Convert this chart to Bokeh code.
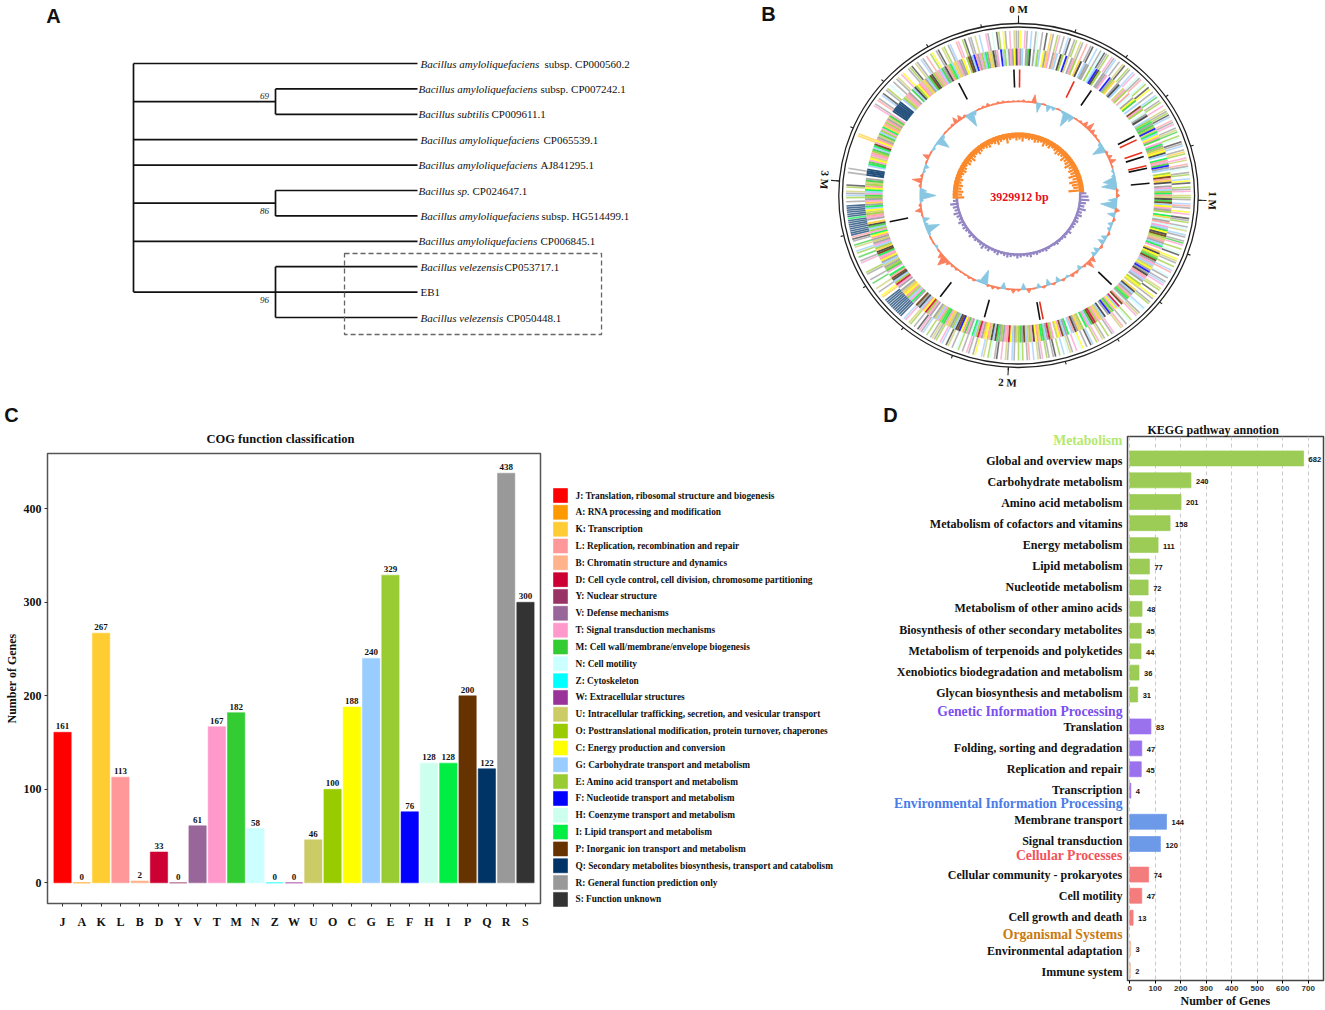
import numpy as np
from bokeh.plotting import figure
from bokeh.layouts import column, row
from bokeh.models import (ColumnDataSource, Range1d, FactorRange, FixedTicker, Label)
from bokeh.core.properties import value
from bokeh.embed import file_html
from bokeh.resources import INLINE

# ---------- Panel A data ----------
tip_italic = ["Bacillus amyloliquefaciens", "Bacillus amyloliquefaciens", "Bacillus subtilis",
              "Bacillus amyloliquefaciens", "Bacillus amyloliquefaciens", "Bacillus sp.",
              "Bacillus amyloliquefaciens", "Bacillus amyloliquefaciens", "Bacillus velezensis",
              "", "Bacillus velezensis"]
tip_roman = ["subsp. CP000560.2", "subsp. CP007242.1", "CP009611.1", "CP065539.1", "AJ841295.1",
             "CP024647.1", "subsp. HG514499.1", "CP006845.1", "CP053717.1", "EB1", "CP050448.1"]
clades = [[1, 2], [5, 6], [8, 9, 10]]
singles = [0, 3, 4, 7]
support = ["69", "86", "96"]

# ---------- Panel B data ----------
genome_bp = "3929912 bp"
major_ticks = ["0 M", "1 M", "2 M", "3 M"]
gene_outer = [
    "RC.TR.G.RH.R.S.KR.ET.R.GS.RE.UR.L.RS.G.RN",
    "SRE.TRG.R.US.ER.GT.HRL.NE.SC.R.GM.RE.T.UR",
    "ESG.LRT.RUM.EH.SRG.RKE.TU.LRN.RE.GCS.ERT.",
    "UER.GLR.CT.SRE.RNU.GR.RMT.E.HS.CUR.E.GL.N",
    "R.RGT.UE.S.CR.RE..GN.RUT..EH.R.LU...TR.E.",
    "RU.TE.GS.R.CN.T.RUH.G.E.SR.RE.TRU.G.LR.EH",
    "E.RG.RU.T.SR.HE.UG..CR.RT.R.EN.R.US.GT.ER",
    "UR.E.GRTS.R.EU.TG.QQQQQQQQQQQ.KC.R.U..M.R",
    "..RE....TR.M.EG.UM.RSLQQQQQQQQIQQQQQQ.R.E",
    "GRU.ES.....R.R...............KK..........",
    "....TR.LR.GS.RE.N.R.RU.TC..RES.UR.GR.L.E",
    "C.RS.UE.RG..LT.ES.RR.U.G..TR.H.SE.CR.T.UR",
]
gene_inner = [
    "TRG.RMS.RHEG.CRKT.RBG.SE.FU.RTE.KS.GRR.EH",
    "GFSE.RRT.FREK.RSG.UTE.LN.RCM.G.PTE.HRS.GE",
    "IRMEFUIGCLM.TIREKCSG.ILTMFRG.ECPLKS.RTGEI",
    "LUSMPGCTRE.IKHRLNTGMCSPEULRGIT.KSCEMPRTGU",
    "CRFRSLTGR.ECU.KSGRTEIRHLP.DGCTMEFR.SGUKTE",
    "DPMGTI.EUKRSLG.IRGPTCU.TEDRGMIKLCSTEUGPRM",
    "EURGCDLTRERIPGSULCKRTDEGIHRTMLCFPSGERUKTM",
    "IETGUR.RTEDCLGSRP.RITGELCKUR.RTDEGSPLI.TM",
    "ERUGRCLTIPSKEGTRURLCITEGMSK.RTLEUCGIRKTRE",
    "MTGICLEUMR.QQQQ.GIMTCUTLEMGIPTCLRUMGETIKL",
    "ELRUMT.QQQQQQQ.GEUTLR.MGSECLTUKRGMPSELUTG",
    "MRSLEIGKUTRRC.EPSGFLRTEGIRKUSRT.FGEHRTRCS",
]
rna_deg = [358, 0.5, 25, 33.6, 61.8, 63.8, 70, 72, 76.3, 77.5, 84.4, 135, 169.2, 170.6, 195, 216.5, 258, 333]
rna_kind = ["k", "r", "r", "k", "k", "r", "r", "k", "r", "k", "k", "k", "r", "k", "k", "k", "k", "k"]
gc_dev = [1, 2, 1, 8, -9, 1, -6, -3, 1, -2, -14, -6, 1, 2, 5, 8, 4, 2, 1, -3,
          -12, 2, 4, 6, 1, -2, -3, -12, -14, 2, 3, -8, -15, 4, -7, 2, -4, -3, 2, -5,
          -6, 2, -5, -4, 5, 8, 2, -4, 2, 3, -2, 2, -5, 2, -6, 2, -4, 1, 4, -6,
          2, 4, 1, -6, 2, 3, 2, -14, -2, 2, 2, 1, 1, 2, 2, 4, 10, 5, 1, -2,
          1, 1, -2, -13, -3, -6, 1, 6, 2, -3, -15, -6, 2, 9, 2, -2, -4, 1, 6, 1,
          -2, -1, -12, -3, 1, 1, 2, 6, 5, 2, -14, -4, 1, 2, 3, 1, 2, 2, 1, 1]
skew_orange = [11, 9, 10, 8, 9, 7, 8, 6, 7, 8, 7, 6, 8, 7, 9, 7, 6, 8, 7, 6, 7, 8, 6, 7, 9, 7, 6, 10, 7, 6,
               8, 7, 9, 6, 7, 6, 8, 7, 6, 9, 7, 8, 6, 7, 9, 8, 7, 10, 8, 9, 11, 8, 10, 9, 12, 9, 13, 11, 10, 15]
skew_purple = [7, 9, 10, 7, 6, 8, 5, 6, 4, 5, 4, 4, 3, 5, 3, 4, 3, 3, 4, 3, 2, 3, 4, 3, 3, 4, 3, 5, 4, 3,
               4, 5, 3, 4, 5, 4, 3, 5, 4, 3, 5, 4, 6, 4, 3, 4, 3, 5, 3, 4, 5, 4, 6, 4, 5, 7, 5, 6, 8, 5]

# ---------- Panel C data ----------
cog_letters = list("JAKLBDYVTMNZWUOCGEFHIPQRS")
cog_counts = [161, 0, 267, 113, 2, 33, 0, 61, 167, 182, 58, 0, 0, 46, 100, 188, 240, 329, 76, 128, 128, 200, 122, 438, 300]
cog_colors = ["#ff0000", "#ff9900", "#ffcc33", "#ff9999", "#ffb38a", "#cc0033", "#993366", "#996699", "#ff99cc",
              "#33cc33", "#ccffff", "#00ffff", "#993399", "#cccc66", "#99cc00", "#ffff00", "#99ccff", "#99cc33",
              "#0000ff", "#ccffee", "#00ee44", "#663300", "#003366", "#999999", "#333333"]
cog_names = ["Translation, ribosomal structure and biogenesis", "RNA processing and modification", "Transcription",
             "Replication, recombination and repair", "Chromatin structure and dynamics",
             "Cell cycle control, cell division, chromosome partitioning", "Nuclear structure", "Defense mechanisms",
             "Signal transduction mechanisms", "Cell wall/membrane/envelope biogenesis", "Cell motility", "Cytoskeleton",
             "Extracellular structures", "Intracellular trafficking, secretion, and vesicular transport",
             "Posttranslational modification, protein turnover, chaperones", "Energy production and conversion",
             "Carbohydrate transport and metabolism", "Amino acid transport and metabolism",
             "Nucleotide transport and metabolism", "Coenzyme transport and metabolism", "Lipid transport and metabolism",
             "Inorganic ion transport and metabolism", "Secondary metabolites biosynthesis, transport and catabolism",
             "General function prediction only", "Function unknown"]

# ---------- Panel D data ----------
kegg_names = ["Global and overview maps", "Carbohydrate metabolism", "Amino acid metabolism",
              "Metabolism of cofactors and vitamins", "Energy metabolism", "Lipid metabolism", "Nucleotide metabolism",
              "Metabolism of other amino acids", "Biosynthesis of other secondary metabolites",
              "Metabolism of terpenoids and polyketides", "Xenobiotics biodegradation and metabolism",
              "Glycan biosynthesis and metabolism", "Translation", "Folding, sorting and degradation",
              "Replication and repair", "Transcription", "Membrane transport", "Signal transduction",
              "Cellular community - prokaryotes", "Cell motility", "Cell growth and death",
              "Environmental adaptation", "Immune system"]
kegg_counts = [682, 240, 201, 158, 111, 77, 72, 48, 45, 44, 36, 31, 83, 47, 45, 4, 144, 120, 74, 47, 13, 3, 2]
kegg_group = [0] * 12 + [1] * 4 + [2] * 2 + [3] * 3 + [4] * 2
group_names = ["Metabolism", "Genetic Information Processing", "Environmental Information Processing",
               "Cellular Processes", "Organismal Systems"]
group_bar = ["#9ccc56", "#9b72ee", "#6d9ae8", "#f47c7c", "#f2bfa0"]
group_text = ["#b5e86e", "#7b4ff0", "#4a7de8", "#f2535b", "#c87a10"]

SERIF = "Liberation Serif"
SANS = "Liberation Sans"
TOP_H, BOT_H = 424, 586


def letter(p, txt, x, y_top):
    p.add_layout(Label(x=x, y=TOP_H - y_top, x_units="screen", y_units="screen", text=txt, text_font=SANS,
                       text_font_style="bold", text_font_size="20px", text_color="#111",
                       text_baseline="middle", text_align="center"))


# ---------- Panel A ----------
W_A = 745
step_y, depth_px, root_px, tip0_px = 25.4, 142.0, 133.0, 63.0
a = figure(width=W_A, height=TOP_H, x_axis_type=None, y_axis_type=None, output_backend="svg", toolbar_location=None,
           x_range=Range1d(-root_px / depth_px, (W_A - root_px) / depth_px),
           y_range=Range1d((TOP_H - tip0_px) / step_y, -tip0_px / step_y),
           min_border=0, outline_line_color=None, frame_align=False)
a.grid.visible = False
xs, ys = [[0, 0]], [[0, 9]]
for t in singles:
    xs.append([0, 2]); ys.append([t, t])
for c_ in clades:
    mid = (c_[0] + c_[-1]) / 2
    xs.append([0, 1]); ys.append([mid, mid])
    xs.append([1, 1]); ys.append([c_[0], c_[-1]])
    for t in c_:
        xs.append([1, 2]); ys.append([t, t])
a.multi_line(xs, ys, line_color="#111", line_width=1.7)
a.quad(left=[1.486], right=[3.296], top=[7.48], bottom=[10.67], fill_color=None, line_color="#666",
       line_dash="5 3", line_width=1.3)
n = len(tip_roman)
it_off = [3, 1, 1, 3, 1, 1, 3, 1, 3, 0, 3]
ro_off = [127, 123, 74, 126, 123, 55, 124, 123, 87, 3, 89]
src = ColumnDataSource(dict(x=[2] * n, y=list(range(n)), it=tip_italic, ro=tip_roman, io=it_off, oo=ro_off))
a.text("x", "y", text="it", x_offset="io", source=src, text_font=value(SERIF), text_font_style="italic",
       text_font_size="11px", text_baseline="middle", text_color="#111")
a.text("x", "y", text="ro", x_offset="oo", source=src, text_font=value(SERIF),
       text_font_size="11px", text_baseline="middle", text_color="#111")
a.text([1, 1, 1], [1.5, 5.5, 9], text=support, x_offset=[-11] * 3, y_offset=[-6, 8, 8], text_align="center",
       text_font=value(SERIF), text_font_style="italic", text_font_size="9px", text_baseline="middle", text_color="#222")
letter(a, "A", 53, 15)
letter(a, "C", 11, 414)

# ---------- Panel B ----------
W_B = 580
stretch = 1.045
cx, cy = 273.0, 195.0
b = figure(width=W_B, height=TOP_H, x_axis_type=None, y_axis_type=None, output_backend="svg", toolbar_location=None,
           x_range=Range1d(-cx / stretch, (W_B - cx) / stretch), y_range=Range1d(-(TOP_H - cy), cy),
           min_border=0, outline_line_color=None, frame_align=False)
b.grid.visible = False
color_of = dict(zip(cog_letters, cog_colors))


def radial(deg, r0, r1):
    t = np.radians(deg)
    return [r0 * np.sin(t), r1 * np.sin(t)], [r0 * np.cos(t), r1 * np.cos(t)]


def arc(d0, d1, r):
    t = np.radians(np.arange(d0, d1 + 1, 1.0))
    return r * np.sin(t), r * np.cos(t)


def draw_track(chunks, r0, r1, width, alpha):
    mx, my, col = [], [], []
    for i, chunk in enumerate(chunks):
        for j, ch in enumerate(chunk):
            if ch == ".":
                continue
            x, y = radial(30 * (i + j / len(chunk)), r0, r1)
            mx.append(x); my.append(y); col.append(color_of[ch])
    b.multi_line(mx, my, line_color=col, line_width=width, line_alpha=alpha)


draw_track(gene_outer, 147, 165, 1.6, 0.7)
draw_track(gene_inner, 130, 147, 1.9, 0.85)

for rr in (172, 168.5):
    b.ellipse([0], [0], width=2 * rr, height=2 * rr, fill_color=None, line_color="#222", line_width=1.3)
tx, ty = [], []
for k in range(20):
    x, y = radial(k * 0.2e6 / 3929912 * 360, 172, 175)
    tx.append(x); ty.append(y)
for k in range(4):
    x, y = radial(k * 1e6 / 3929912 * 360, 172, 180)
    tx.append(x); ty.append(y)
b.multi_line(tx, ty, line_color="#222", line_width=1.1)
lab_deg = [k * 1e6 / 3929912 * 360 for k in range(4)]
lab_rot = [0, -91.6, -3.2, -94.8]
b.text([186 * np.sin(np.radians(d)) for d in lab_deg], [187 * np.cos(np.radians(d)) for d in lab_deg],
       text=major_ticks, angle=lab_rot, angle_units="deg", text_align="center", text_baseline="middle",
       text_font=value(SERIF), text_font_style="bold", text_font_size="11px", text_color="#111")

mx, my, col = [], [], []
for d_, kk in zip(rna_deg, rna_kind):
    x, y = radial(d_, 108, 126)
    mx.append(x); my.append(y); col.append("#e8301c" if kk == "r" else "#111")
b.multi_line(mx, my, line_color=col, line_width=1.6)

# GC content ring: one spike per reading, on a thin base line of the same colour
gc_base = 94
tri_x, tri_y, tri_c, seg_x, seg_y = [], [], [], [], []
for i, v in enumerate(gc_dev):
    th = i * 3.0
    hw = 2.6 if abs(v) >= 10 else 1.5
    pts = [(th - hw, gc_base), (th, gc_base + v), (th + hw, gc_base)]
    tri_x.append([r * np.sin(np.radians(t)) for t, r in pts])
    tri_y.append([r * np.cos(np.radians(t)) for t, r in pts])
    tri_c.append("#fb7f5c" if v > 0 else "#88c6e2")
    seg_x.append([gc_base * np.sin(np.radians(th - 1.5)), gc_base * np.sin(np.radians(th + 1.5))])
    seg_y.append([gc_base * np.cos(np.radians(th - 1.5)), gc_base * np.cos(np.radians(th + 1.5))])
b.multi_line(seg_x, seg_y, line_color=tri_c, line_width=1.5)
b.patches(tri_x, tri_y, fill_color=tri_c, line_color=tri_c, line_width=0.8)

# GC skew ring
ax_, ay_ = arc(268, 448, 60.5)
b.line(ax_, ay_, line_color="#fb8a2c", line_width=5)
ax_, ay_ = arc(88, 268, 59)
b.line(ax_, ay_, line_color="#9486c4", line_width=2.5)
mx, my = [], []
for i, d_ in enumerate(skew_orange):
    x, y = radial(268 + 3 * i, 63 - d_, 63)
    mx.append(x); my.append(y)
b.multi_line(mx, my, line_color="#fb8a2c", line_width=2.2)
mx, my = [], []
for i, h in enumerate(skew_purple):
    x, y = radial(88 + 3 * i, 58, 58 + h)
    mx.append(x); my.append(y)
b.multi_line(mx, my, line_color="#9486c4", line_width=2.2)
b.text([1], [-1], text=[genome_bp], text_align="center", text_baseline="middle", text_font=value(SERIF),
       text_font_style="bold", text_font_size="12px", text_color="#e8101c")
letter(b, "B", 23, 13)
letter(b, "D", 145, 414)

# ---------- Panel C ----------
W_C = 547
c = figure(width=W_C, height=BOT_H + 2, output_backend="svg", toolbar_location=None,
           x_range=FactorRange(factors=cog_letters, factor_padding=0, range_padding=0.28, range_padding_units="absolute"),
           y_range=Range1d(-22.1, 459.1), frame_align=False, margin=(-2, 0, 0, 0),
           min_border_left=47, min_border_right=7, min_border_top=31, min_border_bottom=107,
           outline_line_color="#555", outline_line_width=1.5, title="COG function classification",
           y_axis_label="Number of Genes")
c.title.align = "left"
c.title.offset = 159
c.title.text_font = SERIF
c.title.text_font_style = "bold"
c.title.text_font_size = "12.5px"
c.title.text_color = "#111"
c.title.standoff = 15
c.grid.visible = False
src_c = ColumnDataSource(dict(x=cog_letters, top=cog_counts, color=cog_colors, lab=[str(v) for v in cog_counts]))
c.vbar(x="x", top="top", bottom=0, width=0.9, source=src_c, fill_color="color", line_color="color", line_width=1, line_alpha=0.5)
c.text(x="x", y="top", text="lab", source=src_c, y_offset=-3, text_align="center", text_baseline="bottom",
       text_font=value(SERIF), text_font_style="bold", text_font_size="9px", text_color="#111")
c.yaxis.ticker = FixedTicker(ticks=[0, 100, 200, 300, 400])
for ax in (c.xaxis[0], c.yaxis[0]):
    ax.axis_line_color = None
    ax.major_tick_out = 3
    ax.major_tick_in = 0
    ax.minor_tick_line_color = None
    ax.major_label_text_font = SERIF
    ax.major_label_text_font_style = "bold"
    ax.major_label_text_font_size = "12px"
    ax.major_label_text_color = "#111"
    ax.major_tick_line_color = "#333"
c.xaxis.major_label_standoff = 8
c.yaxis.major_label_standoff = 3
c.yaxis.axis_label_text_font = SERIF
c.yaxis.axis_label_text_font_style = "bold"
c.yaxis.axis_label_text_font_size = "12px"
c.yaxis.axis_label_text_color = "#111"
c.yaxis.axis_label_standoff = 2

# ---------- COG legend and the row names of panel D share one text canvas ----------
W_L = 578
PAGE_TOP, PAGE_BOTTOM = TOP_H, TOP_H + BOT_H
row0, row_h = 495.0, 16.83
leg = figure(width=W_L, height=BOT_H, x_axis_type=None, y_axis_type=None, output_backend="svg", toolbar_location=None,
             x_range=Range1d(0, W_L), y_range=Range1d(PAGE_BOTTOM, PAGE_TOP),
             min_border=0, outline_line_color=None, frame_align=False)
leg.grid.visible = False
rows_l = [row0 + row_h * i for i in range(len(cog_letters))]
leg.rect([13] * len(rows_l), rows_l, width=14, height=14, width_units="screen", height_units="screen",
         fill_color=cog_colors, line_color=cog_colors, line_alpha=0.6)
leg.text([28] * len(rows_l), rows_l, text=[f"{a_}: {b_}" for a_, b_ in zip(cog_letters, cog_names)],
         text_baseline="middle", text_font=value(SERIF), text_font_style="bold", text_font_size="9.3px", text_color="#111")

bar_y = [458, 480, 501.7, 523, 545, 566.5, 587.5, 609, 631, 651.5, 673, 695, 727, 749, 770, 791.5, 822.7, 845,
         875.7, 897, 919, 950, 972]
name_y = [461, 482, 503, 524, 545, 566, 587, 608, 630, 651, 672, 693, 727, 748, 769, 790, 820, 841, 875, 896, 917, 951, 972]
head_y = [441, 712, 804, 856, 935]
leg.text([W_L - 3] * len(name_y), name_y, text=kegg_names, y_offset=-1, text_align="right", text_baseline="middle",
         text_font=value(SERIF), text_font_style="bold", text_font_size="12px", text_color="#111")
leg.text([W_L - 3] * len(head_y), head_y, text=group_names, y_offset=-1, text_align="right", text_baseline="middle",
         text_font=value(SERIF), text_font_style="bold", text_font_size="13.7px", text_color=group_text)

# ---------- Panel D ----------
W_D = 200
d = figure(width=W_D, height=BOT_H + 4, output_backend="svg", toolbar_location=None,
           x_range=Range1d(-9, 760), y_range=Range1d(982, 436), frame_align=False, margin=(-4, 0, 0, 0),
           min_border_left=2, min_border_right=2, min_border_top=16, min_border_bottom=28,
           outline_line_color="#444", outline_line_width=1.5,
           title="KEGG pathway annotion", x_axis_label="Number of Genes")
d.title.align = "left"
d.title.offset = 20
d.title.text_font = SERIF
d.title.text_font_style = "bold"
d.title.text_font_size = "12px"
d.title.text_color = "#111"
d.title.text_line_height = 0.7
d.title.standoff = 0
d.yaxis.visible = False
d.ygrid.visible = False
d.xgrid.grid_line_color = "#cccccc"
d.xgrid.grid_line_dash = "4 3"
d.xgrid.grid_line_width = 1.1
d.xaxis.ticker = FixedTicker(ticks=[0, 100, 200, 300, 400, 500, 600, 700])
d.xaxis.axis_line_color = None
d.xaxis.major_tick_out = 3
d.xaxis.major_tick_in = 0
d.xaxis.minor_tick_line_color = None
d.xaxis.major_label_text_font = SANS
d.xaxis.major_label_text_font_size = "8px"
d.xaxis.major_label_text_font_style = "bold"
d.xaxis.major_label_text_color = "#333"
d.xaxis.major_label_standoff = 2
d.xaxis.axis_label_text_font = SERIF
d.xaxis.axis_label_text_font_style = "bold"
d.xaxis.axis_label_text_font_size = "12px"
d.xaxis.axis_label_text_color = "#111"
d.xaxis.axis_label_standoff = 0
bar_col = [group_bar[g] for g in kegg_group]
src_d = ColumnDataSource(dict(y=bar_y, v=kegg_counts, color=bar_col, lab=[str(v) for v in kegg_counts]))
d.hbar(y="y", right="v", left=0, height=15, source=src_d, fill_color="color", line_color="color", line_alpha=0.7)
d.text(x="v", y="y", text="lab", source=src_d, x_offset=5, y_offset=1, text_baseline="middle", text_font=value(SANS),
       text_font_style="bold", text_font_size="7.5px", text_color="#111")

root = column(row(a, b, spacing=0), row(c, leg, d, spacing=0), spacing=0)
open("out.html", "w").write(file_html(root, INLINE, title="Panels"))
